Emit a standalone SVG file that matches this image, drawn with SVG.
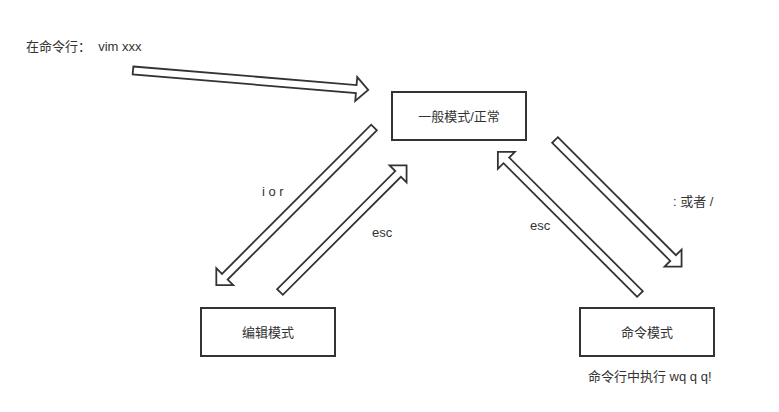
<svg xmlns="http://www.w3.org/2000/svg" width="779" height="412" viewBox="0 0 779 412">
<style>
.bg{fill:#fff}
.box{fill:#fff;stroke:#333;stroke-width:2}
.arr{fill:#fff;stroke:#333;stroke-width:1.8;stroke-linejoin:miter}
.t{font-family:"Liberation Sans","Noto Sans CJK SC",sans-serif;font-size:13px;fill:#333}
.c{text-anchor:middle}
</style>
<rect class="bg" x="0" y="0" width="779" height="412"/>
<g id="connectors">
  <g id="arrow-start">
    <polygon class="arr" points="0,-4 224,-4 224,-12 236,0 224,12 224,4 0,4" transform="translate(133,70.5) rotate(4.74)"/>
  </g>
  <g id="arrow-ior">
    <polygon class="arr" points="0,-4 211,-4 211,-12 223,0 211,12 211,4 0,4" transform="translate(374,127.5) rotate(135)"/>
  </g>
  <g id="arrow-esc-left">
    <polygon class="arr" points="0,-4 167,-4 167,-12 179,0 167,12 167,4 0,4" transform="translate(280,292) rotate(-45)"/>
  </g>
  <g id="arrow-colon">
    <polygon class="arr" points="0,-4 167,-4 167,-12 179,0 167,12 167,4 0,4" transform="translate(555,140) rotate(45)"/>
  </g>
  <g id="arrow-esc-right">
    <polygon class="arr" points="0,-4 189,-4 189,-12 201,0 189,12 189,4 0,4" transform="translate(640,294) rotate(-135)"/>
  </g>
  <text class="t" x="26" y="51" xml:space="preserve">在命令行：  vim xxx</text>
  <text class="t" x="262" y="196" xml:space="preserve">i o r</text>
  <text class="t" x="372" y="237">esc</text>
  <text class="t" x="673" y="206" xml:space="preserve">: 或者 /</text>
  <text class="t" x="530" y="230">esc</text>
</g>
<g id="node-normal">
  <rect class="box" x="392" y="92" width="134" height="48"/>
  <text class="t c" x="459" y="120.5">一般模式/正常</text>
</g>
<g id="node-edit">
  <rect class="box" x="201" y="308" width="134" height="48"/>
  <text class="t c" x="268" y="336.5">编辑模式</text>
</g>
<g id="node-command">
  <rect class="box" x="580" y="308" width="134" height="48"/>
  <text class="t c" x="647" y="336.5">命令模式</text>
  <text class="t" x="588" y="381" xml:space="preserve">命令行中执行 wq q q!</text>
</g>
</svg>
